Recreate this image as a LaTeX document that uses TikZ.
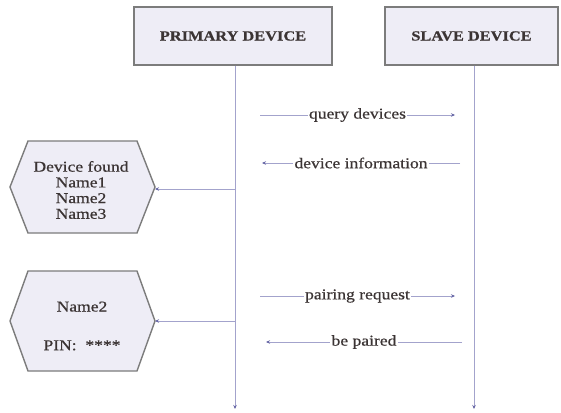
\documentclass[tikz,border=0pt]{standalone}
\usepackage{fontspec}
\setmainfont{Liberation Serif}[FakeStretch=1.17, FakeBold=0.6]
\usetikzlibrary{arrows.meta}
\definecolor{boxfill}{HTML}{EEEDF6}
\definecolor{boxline}{HTML}{7C7C7C}
\definecolor{wire}{HTML}{A3A3CC}
\definecolor{tip}{HTML}{6767A6}
\definecolor{ink}{HTML}{3B3434}
\tikzset{
  device/.style={draw=boxline, line width=1.4pt, fill=boxfill, text=ink,
    minimum height=58pt, inner sep=0pt, font=\fontsize{14}{16}\selectfont\bfseries},
  lifeline/.style={draw=wire, line width=1pt, -{Stealth[length=4pt,width=3.5pt,color=tip]}},
  msg/.style={draw=wire, line width=1pt, -{Stealth[length=4pt,width=3.5pt,color=tip]}},
  lbl/.style={fill=white, text=ink, inner sep=1.5pt, font=\fontsize{15}{16}\selectfont},
  hexline/.style={draw=boxline, line width=1.4pt, fill=boxfill, line join=miter},
  hextext/.style={text=ink, align=center, inner sep=0pt, font=\fontsize{15}{15.7}\selectfont}
}
\begin{document}
\begin{tikzpicture}[x=1pt, y=-1pt]
  \useasboundingbox[fill=white] (0,0) rectangle (561,412);

  % participants
  \node[device, minimum width=198pt] (primary) at (233,36) {PRIMARY DEVICE};
  \node[device, minimum width=173pt] (slave) at (471.5,36) {SLAVE DEVICE};

  % lifelines
  \coordinate (pend) at (235,409);
  \coordinate (send) at (474,409);
  \draw[lifeline] (primary.south -| pend) -- (pend);
  \draw[lifeline] (slave.south -| send) -- (send);

  % result panels
  \draw[hexline] (10,187) -- (28,141) -- (137,141) -- (155,187) -- (137,233) -- (28,233) -- cycle;
  \node[hextext] (found) at (81,190) {Device found\\Name1\\Name2\\Name3};
  \coordinate (foundtip) at (155,189);

  \draw[hexline] (10,321) -- (28,271) -- (137,271) -- (155,321) -- (137,371) -- (28,371) -- cycle;
  \node[hextext] (pin) at (82,326) {Name2\\[23pt]PIN:\ \ ****};
  \coordinate (pintip) at (155,321);

  % messages
  \coordinate (q1) at (260,115); \coordinate (q2) at (455,115);
  \coordinate (i1) at (460,163); \coordinate (i2) at (262,163);
  \coordinate (r1) at (260,296); \coordinate (r2) at (455,296);
  \coordinate (b1) at (462,342); \coordinate (b2) at (266,342);
  \coordinate (f1) at (235,189);
  \coordinate (k1) at (235,321);

  \draw[msg] (q1) -- node[lbl] {query devices} (q2);
  \draw[msg] (i1) -- node[lbl] {device information} (i2);
  \draw[msg] (r1) -- node[lbl] {pairing request} (r2);
  \draw[msg] (b1) -- node[lbl] {be paired} (b2);
  \draw[msg] (f1) -- (foundtip);
  \draw[msg] (k1) -- (pintip);
\end{tikzpicture}
\end{document}
